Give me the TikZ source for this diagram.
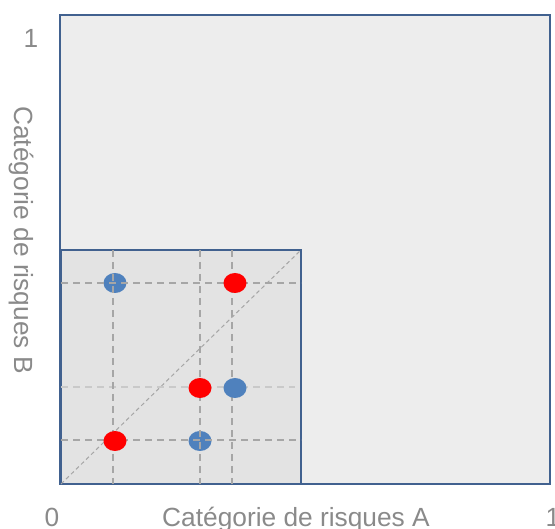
\documentclass[tikz,border=0pt]{standalone}
\usepackage{fontspec}
\setmainfont{Liberation Sans}
\usepackage{tikz}
\usetikzlibrary{shapes.geometric}
\definecolor{framecolor}{HTML}{41618F}
\definecolor{outerfill}{HTML}{EDEDED}
\definecolor{innerfill}{HTML}{E3E3E3}
\definecolor{gridcolor}{HTML}{A6A6A6}
\definecolor{lightgrid}{HTML}{C9C9C9}
\definecolor{dotblue}{HTML}{4F81BD}
\definecolor{dotred}{HTML}{FF0000}
\definecolor{labelcolor}{HTML}{8A8A8A}
\tikzset{
	,frame/.style	= {draw = framecolor, line width = 2pt}
	,guide/.style	= {draw = gridcolor, line width = 1.6pt, dash pattern = on 7pt off 5pt}
	,soft/.style	= {guide, draw = lightgrid}
	,diag/.style	= {draw = gridcolor, line width = 1pt, dash pattern = on 4pt off 3pt}
	,dot/.style		= {ellipse, minimum width = 23pt, minimum height = 20pt, inner sep = 0pt}
	,b/.style		= {dot, fill = dotblue}
	,r/.style		= {dot, fill = dotred}
	,lbl/.style		= {text = labelcolor, font = \fontsize{26.3}{31}\selectfont, inner sep = 0pt}
}

\begin{document}
\begin{tikzpicture}[x=1pt, y=-1pt]
	\useasboundingbox (0,0) rectangle (555,529);

	% the two boxes
	\coordinate (sw) at (61,484);
	\coordinate (ne) at (301,250);
	\draw[frame, fill = outerfill] (60,15) rectangle (550,484);
	\draw[frame, fill = innerfill] (sw) rectangle (ne);

	% the diagonal
	\draw[diag] (sw) -- (ne);

	% NOTE: guides under the dots
	\draw[guide] (232,250) -- (232,484);
	\draw[soft] (61,387) -- (295,387);

	% the blue dots
	\foreach \x/\y/\n in {115/283/b1, 235/388/b2, 200/441/b3}{
		\node[b] (\n) at (\x,\y) {};
	}

	% guides over the blue dots
	\foreach \x in {113,200}{
		\draw[guide] (\x,250) -- (\x,484);
	}
	\foreach \y in {283,440}{
		\draw[guide] (61,\y) -- (301,\y);
	}

	% the red dots
	\foreach \x/\y/\n in {235/283/r1, 200/388/r2, 115/441/r3}{
		\node[r] (\n) at (\x,\y) {};
	}

	% the labels
	\node[lbl, anchor = base] (one)  at (31,48)  {1};
	\node[lbl, anchor = base] (zero) at (52,527) {0};
	\node[lbl, anchor = base] (end)  at (553,527) {1};
	\node[lbl, anchor = base] (axa)  at (296,527) {Catégorie de risques A};
	\node[lbl, anchor = base, rotate = -90] (axb) at (14,240) {Catégorie de risques B};
\end{tikzpicture}
\end{document}
